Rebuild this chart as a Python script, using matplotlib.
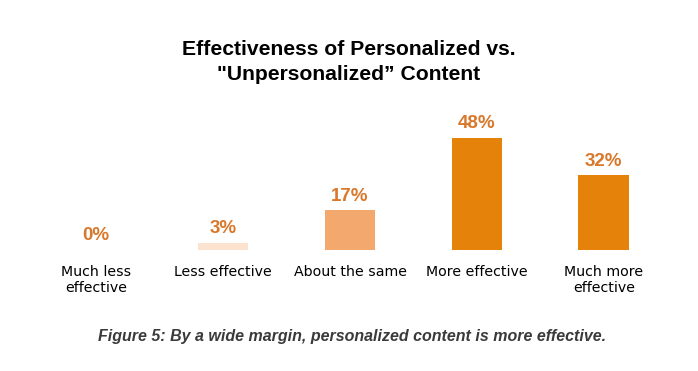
import matplotlib
matplotlib.use("Agg")
import matplotlib.pyplot as plt

categories = ["Much less\neffective", "Less effective", "About the same", "More effective", "Much more\neffective"]
values = [0, 3, 17, 48, 32]
bar_colors = ["#FBE3CF", "#FBE3CF", "#F3A86E", "#E5820A", "#E5820A"]

fig = plt.figure(figsize=(6.98, 3.71), dpi=100)
ax = fig.add_axes([20/698, 121/371, 660/698, 140/371])
x = list(range(len(categories)))
bars = ax.bar(x, values, width=0.4, color=bar_colors)
for xi, v in zip(x, values):
    ax.annotate(f"{v}%", (xi, v), xytext=(0, 4), textcoords="offset points",
                ha="center", va="bottom", fontsize=13.5, fontweight="bold",
                color="#D9782A", family="Liberation Sans")
ax.set_xlim(-0.6, 4.6)
ax.set_ylim(0, 60)
ax.set_xticks(x)
ax.set_xticklabels(categories, fontsize=10.2, family="DejaVu Sans", linespacing=1.15)
ax.tick_params(axis="x", length=0, pad=11)
ax.set_yticks([])
for s in ax.spines.values():
    s.set_visible(False)
ax.patch.set_alpha(0)

fig.text(0.5, 1 - 62/371, "Effectiveness of Personalized vs.\n\"Unpersonalized\u201d Content",
         ha="center", va="center", fontsize=15.2, fontweight="bold",
         family="Liberation Sans", linespacing=1.4)
fig.text(352/698, 1 - 337/371, "Figure 5: By a wide margin, personalized content is more effective.",
         ha="center", va="center", fontsize=11.5, fontweight="bold", style="italic",
         family="Liberation Sans", color="#3a3a3a")
fig.savefig("out.png", dpi=100)
